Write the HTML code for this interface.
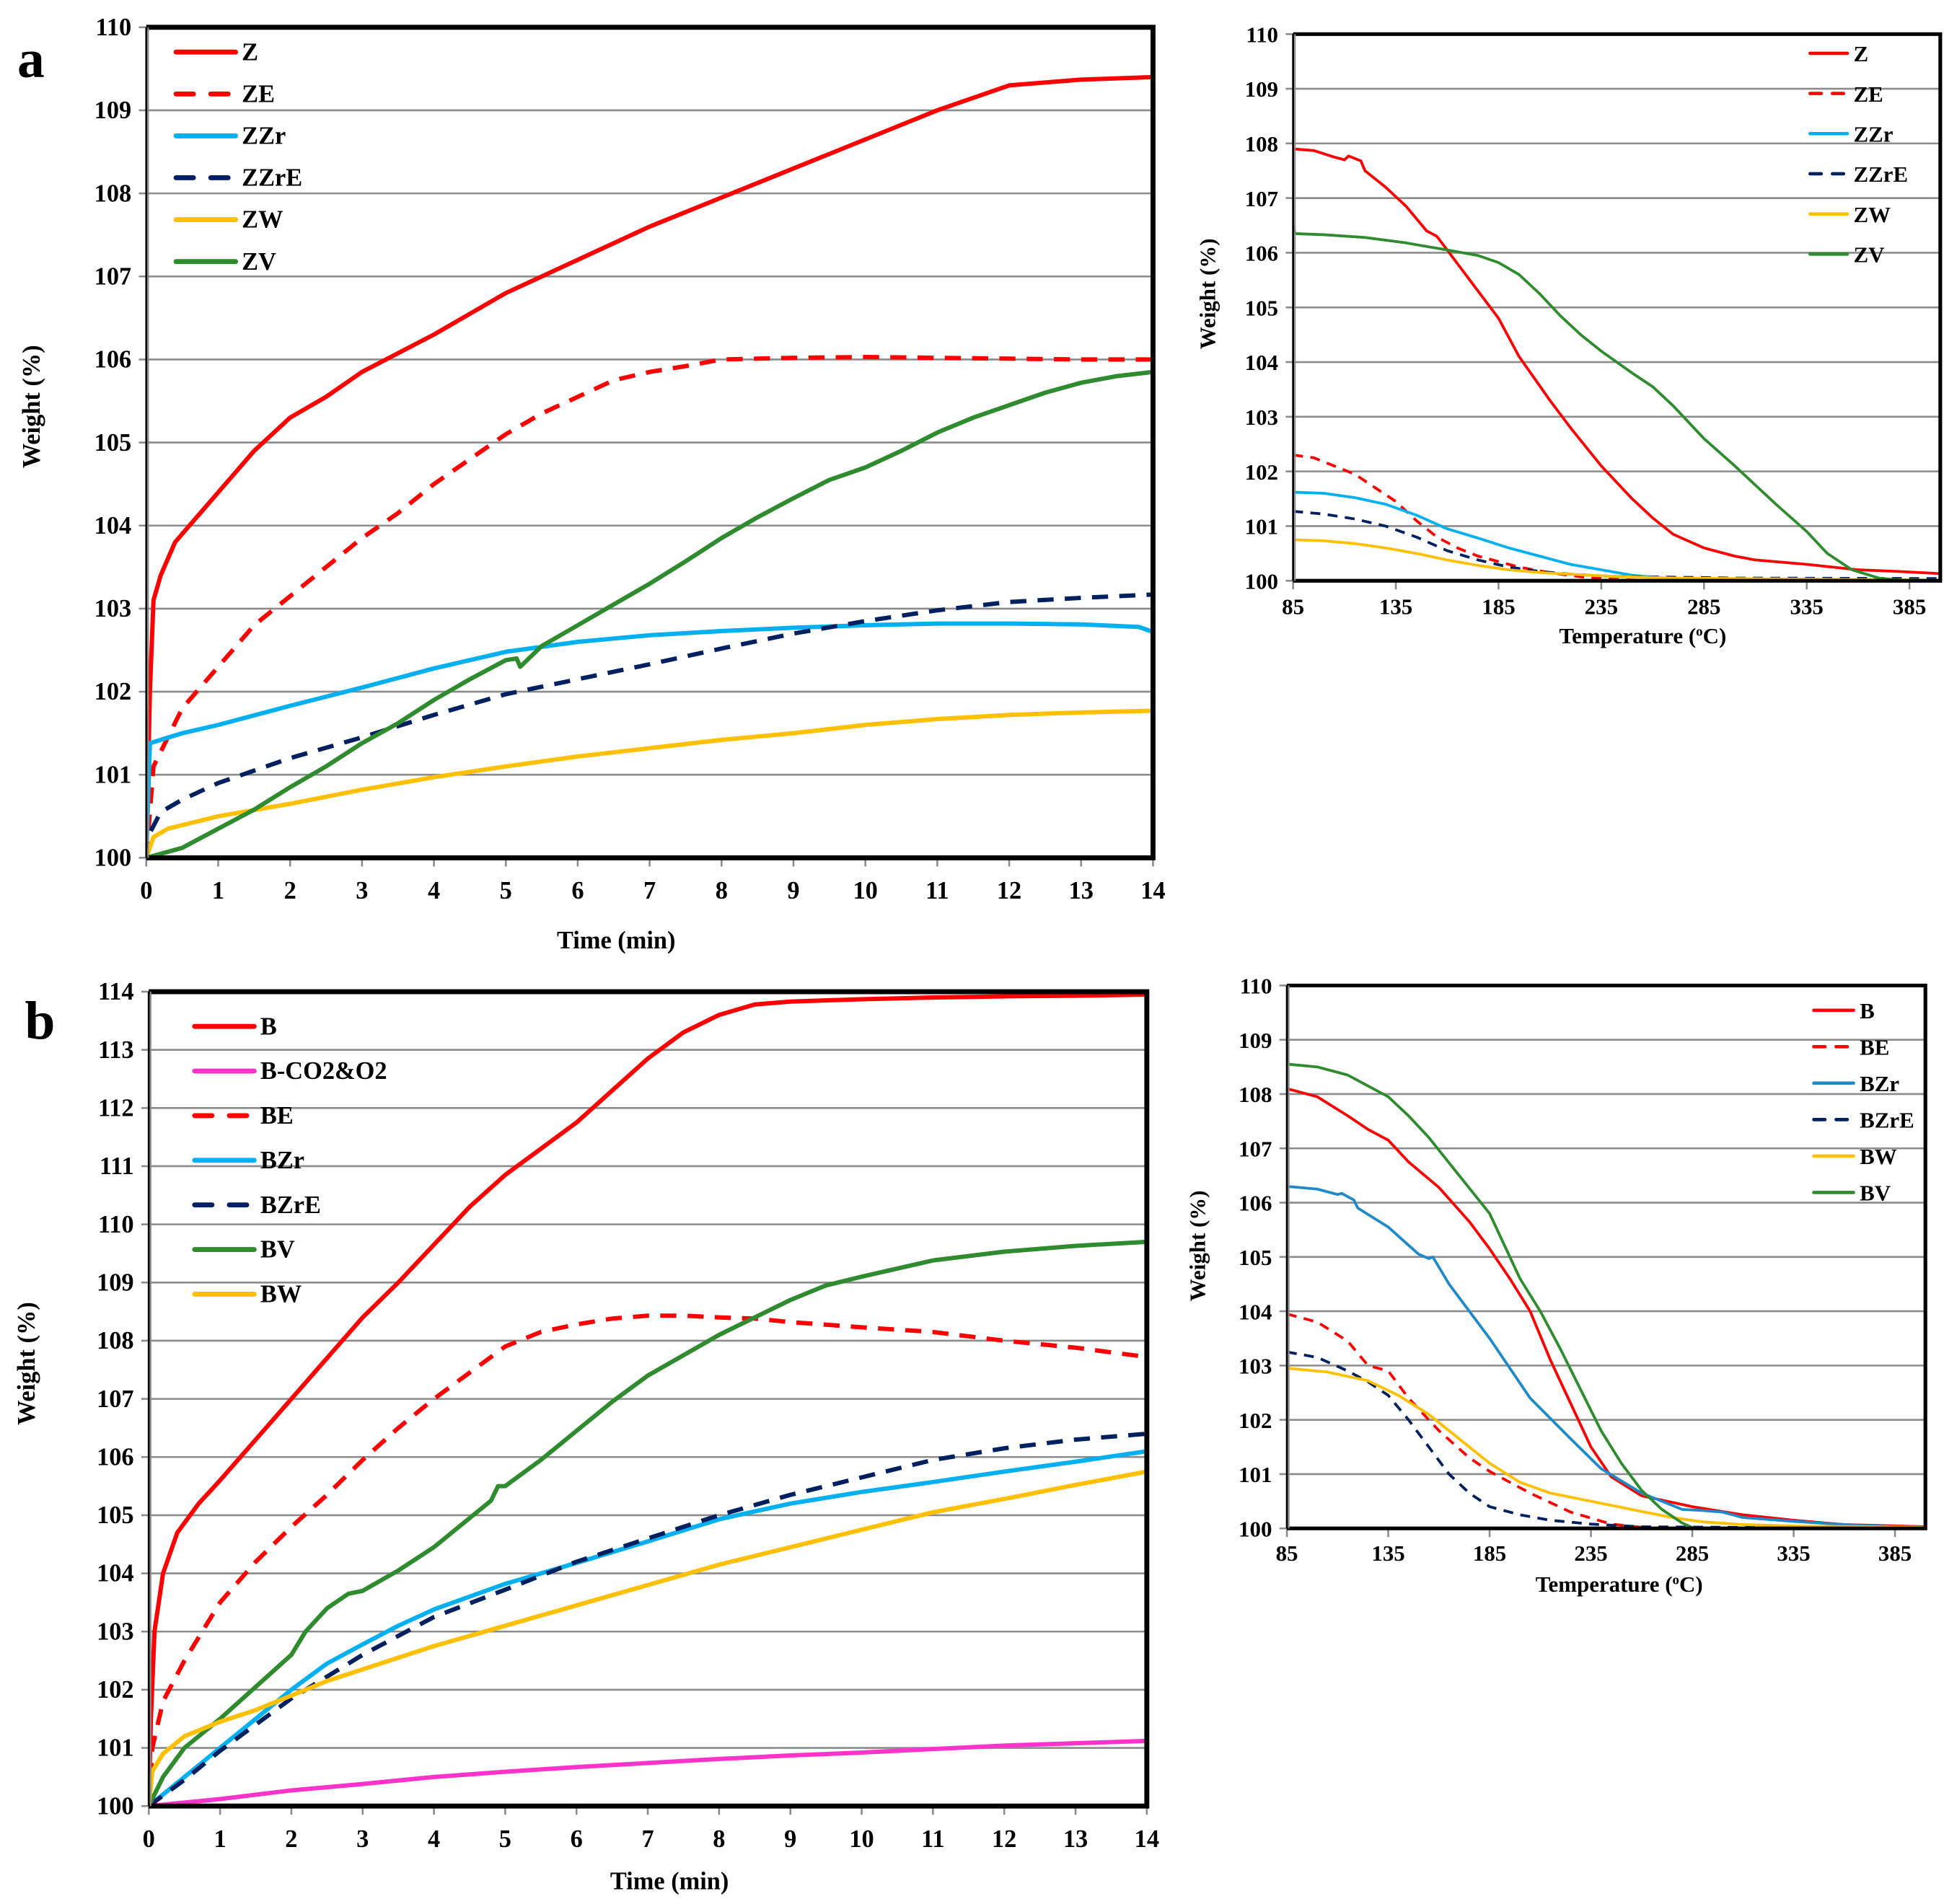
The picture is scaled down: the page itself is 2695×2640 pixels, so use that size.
<!DOCTYPE html>
<html><head><meta charset="utf-8"><style>
html,body{margin:0;padding:0;background:#fff;}
svg{display:block;}
svg text{font-family:"Liberation Serif","Times New Roman",serif;font-weight:bold;fill:#000;}
</style></head><body>
<svg id="fig" width="2695" height="2640" viewBox="0 0 1568 1536" xmlns="http://www.w3.org/2000/svg" font-family="Liberation Serif, serif" font-weight="bold">
<rect width="1568" height="1536" fill="#fff"/>
<text x="14" y="62" font-size="44">a</text>
<text x="20" y="838" font-size="44">b</text>
</svg>
<script>
// ---------- Panel a (time) ----------
const aTicksY = [100,101,102,103,104,105,106,107,108,109,110];
const timeTicks = [0,1,2,3,4,5,6,7,8,9,10,11,12,13,14];
const aZ_t = [0,0.05,0.1,0.2,0.4,0.7,1,1.5,2,2.5,3,4,5,6,7,8,9,10,11,12,13,14];
const aZ_v = [100,102,103.1,103.4,103.8,104.1,104.4,104.9,105.3,105.55,105.85,106.3,106.8,107.2,107.6,107.95,108.3,108.65,109.0,109.3,109.37,109.4];
const aZE_t = [0,0.1,0.5,1,1.5,2,2.5,3,3.5,4,4.5,5,5.5,6,6.5,7,7.5,8,9,10,11,12,13,14];
const aZE_v = [100,101.1,101.8,102.3,102.8,103.15,103.5,103.85,104.15,104.5,104.8,105.1,105.35,105.55,105.75,105.85,105.92,106,106.02,106.03,106.02,106.01,106,106];
const aZZr_t = [0,0.05,0.5,1,2,3,4,5,6,7,8,9,10,11,12,13,13.8,14];
const aZZr_v = [100,101.38,101.5,101.6,101.83,102.05,102.28,102.48,102.6,102.68,102.73,102.77,102.8,102.82,102.82,102.81,102.78,102.72];
const aZZrE_t = [0,0.05,0.2,0.5,1,2,3,4,5,6,7,8,9,10,11,12,13,14];
const aZZrE_v = [100,100.3,100.55,100.7,100.9,101.2,101.45,101.72,101.97,102.15,102.33,102.52,102.7,102.85,102.98,103.08,103.13,103.17];
const aZW_t = [0,0.1,0.3,1,2,3,4,5,6,7,8,9,10,11,12,13,14];
const aZW_v = [100,100.25,100.35,100.5,100.65,100.82,100.97,101.1,101.22,101.32,101.42,101.5,101.6,101.67,101.72,101.75,101.77];
const aZV_t = [0,0.5,1,1.5,2,2.5,3,3.5,4,4.5,5,5.15,5.2,5.5,6,6.5,7,7.5,8,8.5,9,9.5,10,10.5,11,11.5,12,12.5,13,13.5,14];
const aZV_v = [100,100.12,100.35,100.58,100.85,101.1,101.38,101.62,101.9,102.15,102.38,102.4,102.3,102.55,102.8,103.05,103.3,103.57,103.85,104.1,104.33,104.55,104.7,104.9,105.12,105.3,105.45,105.6,105.72,105.8,105.85];

// ---------- Inset a (temperature) ----------
const tempTicks = [85,135,185,235,285,335,385];
const iZ_T = [85,95,105,110,112,118,120,130,140,150,155,160,170,185,195,210,220,235,250,260,270,285,300,310,335,360,380,400];
const iZ_v = [107.9,107.87,107.75,107.7,107.77,107.68,107.5,107.2,106.85,106.4,106.3,106.05,105.55,104.8,104.1,103.3,102.8,102.1,101.5,101.15,100.85,100.6,100.45,100.38,100.3,100.2,100.17,100.13];
const iZE_T = [85,95,105,115,125,135,145,155,165,175,185,195,205,215,230,245,260,400];
const iZE_v = [102.3,102.25,102.1,101.95,101.7,101.45,101.1,100.8,100.6,100.45,100.35,100.25,100.18,100.12,100.05,100.02,100,100];
const iZZr_T = [85,100,115,130,145,160,175,190,205,220,235,250,265,280,400];
const iZZr_v = [101.62,101.6,101.52,101.4,101.2,100.95,100.78,100.6,100.45,100.3,100.2,100.1,100.05,100.02,100];
const iZZrE_T = [85,100,115,130,145,160,175,190,205,220,240,300,400];
const iZZrE_v = [101.27,101.22,101.13,101,100.8,100.55,100.38,100.25,100.17,100.12,100.08,100.05,100.04];
const iZW_T = [85,100,115,130,145,160,175,190,205,220,240,270,400];
const iZW_v = [100.75,100.73,100.68,100.6,100.5,100.38,100.28,100.2,100.15,100.12,100.08,100.05,100.01];
const iZV_T = [85,86,100,120,140,160,175,185,195,205,215,225,235,250,260,270,285,300,310,320,335,345,357,370,383,400];
const iZV_v = [106.5,106.35,106.33,106.28,106.18,106.05,105.95,105.82,105.6,105.25,104.85,104.5,104.2,103.8,103.55,103.2,102.6,102.1,101.75,101.4,100.9,100.5,100.2,100.05,100,100];

// ---------- Panel b (time) ----------
const bTicksY = [100,101,102,103,104,105,106,107,108,109,110,111,112,113,114];
const bB_t = [0,0.03,0.08,0.2,0.4,0.7,1,1.5,2,2.5,3,3.5,4,4.5,5,5.5,6,6.5,7,7.5,8,8.5,9,10,11,12,13,14];
const bB_v = [100,101.5,103,104,104.7,105.2,105.6,106.3,107,107.7,108.4,109,109.65,110.3,110.85,111.3,111.75,112.3,112.85,113.3,113.6,113.78,113.83,113.87,113.9,113.92,113.93,113.95];
const bCO_t = [0,1,2,3,4,5,6,7,8,9,10,11,12,13,14];
const bCO_v = [100,100.12,100.27,100.38,100.5,100.59,100.67,100.74,100.81,100.87,100.92,100.98,101.04,101.08,101.12];
const bBE_t = [0,0.05,0.2,0.5,0.8,1,1.5,2,2.5,3,3.5,4,4.5,5,5.5,6,6.5,7,7.5,8,8.5,9,10,11,12,13,14];
const bBE_v = [100,101,101.8,102.5,103.1,103.5,104.2,104.8,105.35,105.95,106.5,107,107.45,107.9,108.15,108.28,108.38,108.43,108.43,108.4,108.38,108.32,108.23,108.15,108,107.88,107.72];
const bBZr_t = [0,0.5,1,1.5,2,2.5,3,3.5,4,5,6,7,8,9,10,11,12,13,14];
const bBZr_v = [100,100.5,101,101.5,102,102.45,102.78,103.1,103.38,103.82,104.18,104.55,104.93,105.2,105.4,105.57,105.75,105.92,106.1];
const bBZrE_t = [0,0.5,1,2,3,4,5,6,7,8,9,10,11,12,13,14];
const bBZrE_v = [100,100.45,100.95,101.85,102.6,103.25,103.72,104.2,104.6,105,105.35,105.65,105.95,106.15,106.3,106.4];
const bBV_t = [0,0.2,0.5,1,1.5,2,2.2,2.5,2.8,3,3.5,4,4.5,4.8,4.9,5,5.5,6,6.5,7,7.5,8,8.5,9,9.5,10,11,12,13,14];
const bBV_v = [100,100.5,101,101.5,102.05,102.6,103,103.4,103.65,103.7,104.05,104.45,104.95,105.25,105.5,105.5,105.95,106.45,106.95,107.4,107.75,108.1,108.4,108.7,108.95,109.1,109.38,109.53,109.63,109.7];
const bBW_t = [0,0.05,0.2,0.5,1,1.5,2,2.5,3,3.5,4,5,6,7,8,9,10,11,12,13,14];
const bBW_v = [100,100.6,100.9,101.2,101.45,101.65,101.9,102.15,102.35,102.55,102.75,103.1,103.45,103.8,104.15,104.45,104.75,105.05,105.28,105.52,105.75];

// ---------- Inset b (temperature) ----------
const jB_T = [85,100,115,125,135,145,160,175,185,195,205,215,225,235,245,260,285,310,335,360,400];
const jB_v = [108.1,107.95,107.6,107.35,107.15,106.75,106.28,105.65,105.15,104.6,104,103.1,102.3,101.5,100.95,100.6,100.4,100.25,100.15,100.07,100.03];
const jBE_T = [85,100,115,125,135,145,160,175,185,205,225,245,265,400];
const jBE_v = [103.95,103.8,103.45,103,102.9,102.4,101.8,101.3,101.05,100.65,100.3,100.08,100,100];
const jBZr_T = [85,100,110,112,118,120,135,150,155,157,165,185,205,225,240,260,280,290,300,310,335,360,400];
const jBZr_v = [106.3,106.25,106.15,106.17,106.05,105.9,105.55,105.05,104.97,105,104.5,103.5,102.4,101.65,101.1,100.65,100.35,100.33,100.3,100.2,100.13,100.07,100];
const jBZrE_T = [85,100,115,125,135,145,155,165,175,185,200,215,235,260,400];
const jBZrE_v = [103.25,103.15,102.9,102.7,102.45,102,101.5,101,100.65,100.4,100.25,100.15,100.08,100.03,100];
const jBW_T = [85,105,125,140,155,170,185,200,215,235,255,275,290,310,340,400];
const jBW_v = [102.95,102.88,102.72,102.45,102.1,101.65,101.2,100.85,100.65,100.5,100.35,100.2,100.12,100.07,100.04,100.02];
const jBV_T = [85,85.5,100,115,125,135,145,155,170,185,200,210,220,230,240,250,260,270,280,286];
const jBV_v = [110,108.55,108.5,108.35,108.15,107.95,107.6,107.2,106.5,105.8,104.6,104,103.3,102.55,101.8,101.2,100.7,100.35,100.1,100];

const NS = "http://www.w3.org/2000/svg";
const svg = document.getElementById('fig');
function el(tag, attrs, parent){
  const e = document.createElementNS(NS, tag);
  for (const k in attrs) e.setAttribute(k, attrs[k]);
  (parent||svg).appendChild(e);
  return e;
}
const RED="#ff0000", CYAN="#00b0f0", NAVY="#002060", YEL="#ffc000", GRN="#2e8b2e", MAG="#ff33cc", BLU="#1f8ac8";

function chart(cfg){
  const g = el('g', {});
  
  
  const X = v => cfg.x0 + (v - cfg.xmin) / (cfg.xmax - cfg.xmin) * (cfg.x1 - cfg.x0);
  const Y = v => cfg.y0 - (v - cfg.ymin) / (cfg.ymax - cfg.ymin) * (cfg.y0 - cfg.y1);
  cfg.yticks.forEach(t => {
    const y = Y(t);
    const gl = el('line', {x1:cfg.x0, x2:cfg.x1, y1:y, y2:y, stroke:'#8c8c8c', 'stroke-width':1.5}, g);
    
    
    el('line', {x1:cfg.x0-6, x2:cfg.x0, y1:y, y2:y, stroke:'#8c8c8c', 'stroke-width':1.5}, g);
    const tx = el('text', {x:cfg.x0-12, y:y+6.5, 'font-size':cfg.fs, 'text-anchor':'end'}, g);
    tx.textContent = t;
    
    
  });
  cfg.xticks.forEach(t => {
    const x = X(t);
    el('line', {x1:x, x2:x, y1:cfg.y0, y2:cfg.y0+7, stroke:'#8c8c8c', 'stroke-width':1.5}, g);
    const tx = el('text', {x:x, y:cfg.y0+cfg.xlabOff, 'font-size':cfg.fs, 'text-anchor':'middle'}, g);
    tx.textContent = t;
    
    
  });
  const clip = el('clipPath', {id:cfg.name+'-clip'}, g);
  el('rect', {x:cfg.x0, y:cfg.y1-2, width:cfg.x1-cfg.x0, height:cfg.y0-cfg.y1+2}, clip);
  cfg.series.forEach(s => {
    const d = s.xs.map((v,i) => (i?'L':'M') + X(v).toFixed(2) + ',' + Y(s.ys[i]).toFixed(2)).join(' ');
    const p = el('path', {d:d, fill:'none', stroke:s.c, 'stroke-width':cfg.lw, 'stroke-linejoin':'round', 'clip-path':'url(#'+cfg.name+'-clip)'}, g);
    if (s.dash) p.setAttribute('stroke-dasharray', cfg.dash);
    
    
  });
  const fr = el('path', {d:`M${cfg.x0},${cfg.y1} L${cfg.x1},${cfg.y1} L${cfg.x1},${cfg.y0} L${cfg.x0},${cfg.y0}`, fill:'none', stroke:'#000', 'stroke-width':cfg.bw}, g);
  
  
  el('line', {x1:cfg.x0, x2:cfg.x0, y1:cfg.y1, y2:cfg.y0, stroke:'#000', 'stroke-width':1.6}, g);
  el('line', {x1:cfg.x0+1.5, x2:cfg.x0+1.5, y1:cfg.y1, y2:cfg.y0, stroke:'#8c8c8c', 'stroke-width':1.2}, g);
  cfg.series.forEach((s,i) => {
    const y = cfg.lgY + i*cfg.lgDy;
    const ln = el('line', {x1:cfg.lgX, x2:cfg.lgX+cfg.lgW, y1:y, y2:y, stroke:s.c, 'stroke-width':cfg.lw+0.5, 'stroke-linecap':'round'}, g);
    if (s.dash) ln.setAttribute('stroke-dasharray', cfg.lgDash);
    
    
    const tx = el('text', {x:cfg.lgX+cfg.lgW+5, y:y+6.5, 'font-size':cfg.lfs}, g);
    tx.textContent = s.n;
    
    
  });
  const xt = el('text', {x:cfg.xtX, y:cfg.xtY, 'font-size':cfg.tfs, 'text-anchor':'middle'}, g);
  xt.innerHTML = cfg.xtitle;
  
  
  const yt = el('text', {x:0, y:0, 'font-size':cfg.tfs, 'text-anchor':'middle', transform:`translate(${cfg.ytX},${cfg.ytY}) rotate(-90)`}, g);
  yt.textContent = 'Weight (%)';
  
  
}

chart({name:'panel-a-chart', x0:118, x1:930, y0:692, y1:22, xmin:0, xmax:14, ymin:100, ymax:110,
  yticks:aTicksY, xticks:timeTicks, fs:20, xlabOff:33, lw:3.5, bw:4, dash:'13,9', lgDash:'14,14',
  lgX:142, lgW:48, lgY:42, lgDy:33.8, lfs:20, xtX:497, xtY:765, ytX:32, ytY:328, tfs:20, xtitle:'Time (min)',
  series:[{n:'Z',xs:aZ_t,ys:aZ_v,c:RED},{n:'ZE',xs:aZE_t,ys:aZE_v,c:RED,dash:1},{n:'ZZr',xs:aZZr_t,ys:aZZr_v,c:CYAN},
          {n:'ZZrE',xs:aZZrE_t,ys:aZZrE_v,c:NAVY,dash:1},{n:'ZW',xs:aZW_t,ys:aZW_v,c:YEL},{n:'ZV',xs:aZV_t,ys:aZV_v,c:GRN}]});

chart({name:'panel-a-inset', x0:1043, x1:1565, y0:468.5, y1:27.5, xmin:85, xmax:400, ymin:100, ymax:110,
  yticks:aTicksY, xticks:tempTicks, fs:18, xlabOff:27, lw:2.2, bw:3, dash:'8,6', lgDash:'9,9',
  lgX:1460, lgW:30, lgY:43, lgDy:32.4, lfs:18, xtX:1325, xtY:519, ytX:980, ytY:237, tfs:18, xtitle:'Temperature (<tspan dy="-6" font-size="11">o</tspan><tspan dy="6">C)</tspan>',
  series:[{n:'Z',xs:iZ_T,ys:iZ_v,c:RED},{n:'ZE',xs:iZE_T,ys:iZE_v,c:RED,dash:1},{n:'ZZr',xs:iZZr_T,ys:iZZr_v,c:CYAN},
          {n:'ZZrE',xs:iZZrE_T,ys:iZZrE_v,c:NAVY,dash:1},{n:'ZW',xs:iZW_T,ys:iZW_v,c:YEL},{n:'ZV',xs:iZV_T,ys:iZV_v,c:GRN}]});

chart({name:'panel-b-chart', x0:120, x1:925, y0:1457, y1:800, xmin:0, xmax:14, ymin:100, ymax:114,
  yticks:bTicksY, xticks:timeTicks, fs:20, xlabOff:33, lw:3.5, bw:4, dash:'13,9', lgDash:'14,14',
  lgX:157, lgW:48, lgY:828, lgDy:36, lfs:20, xtX:540, xtY:1524, ytX:28, ytY:1100, tfs:20, xtitle:'Time (min)',
  series:[{n:'B',xs:bB_t,ys:bB_v,c:RED},{n:'B-CO2&O2',xs:bCO_t,ys:bCO_v,c:MAG},{n:'BE',xs:bBE_t,ys:bBE_v,c:RED,dash:1},
          {n:'BZr',xs:bBZr_t,ys:bBZr_v,c:CYAN},{n:'BZrE',xs:bBZrE_t,ys:bBZrE_v,c:NAVY,dash:1},{n:'BV',xs:bBV_t,ys:bBV_v,c:GRN},{n:'BW',xs:bBW_t,ys:bBW_v,c:YEL}]});

chart({name:'panel-b-inset', x0:1038, x1:1553, y0:1233, y1:795, xmin:85, xmax:400, ymin:100, ymax:110,
  yticks:aTicksY, xticks:tempTicks, fs:18, xlabOff:26, lw:2.2, bw:3, dash:'8,6', lgDash:'9,9',
  lgX:1463, lgW:32, lgY:815, lgDy:29.4, lfs:18, xtX:1306, xtY:1284, ytX:972, ytY:1005, tfs:18, xtitle:'Temperature (<tspan dy="-6" font-size="11">o</tspan><tspan dy="6">C)</tspan>',
  series:[{n:'B',xs:jB_T,ys:jB_v,c:RED},{n:'BE',xs:jBE_T,ys:jBE_v,c:RED,dash:1},{n:'BZr',xs:jBZr_T,ys:jBZr_v,c:BLU},
          {n:'BZrE',xs:jBZrE_T,ys:jBZrE_v,c:NAVY,dash:1},{n:'BW',xs:jBW_T,ys:jBW_v,c:YEL},{n:'BV',xs:jBV_T,ys:jBV_v,c:GRN}]});
</script>
</body></html>
